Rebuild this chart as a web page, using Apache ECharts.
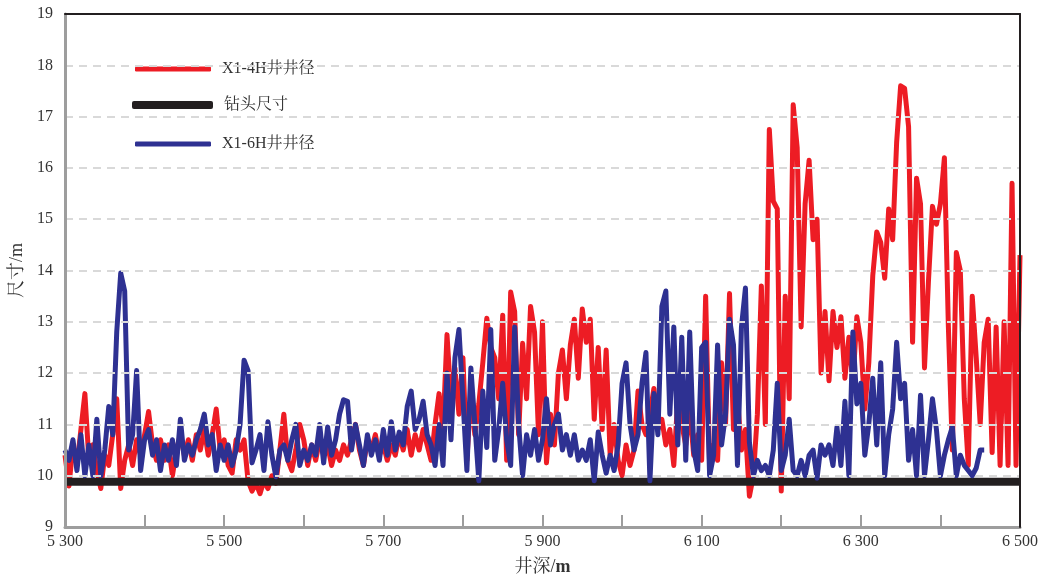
<!DOCTYPE html>
<html>
<head>
<meta charset="utf-8">
<script src="https://cdn.jsdelivr.net/npm/echarts@6/dist/echarts.min.js"></script>
<style>
  html, body { margin: 0; padding: 0; background: #fff; }
  #main { width: 1047px; height: 581px; }
</style>
</head>
<body>
<div id="main"></div>
<script>
// 井深采样: 5300 m 起, 每 5 m 一个点
var depthStart = 5300;
var depthStep = 5;

// X1-4H 井井径 (5300 ~ 6500 m)
var dia4H = [
  10.4, 9.8, 10.6, 10.2, 10.9, 11.6, 10.3, 10.6, 10.1, 9.75,
  10.4, 10.2, 10.8, 11.5, 9.75, 10.3, 10.6, 10.2, 10.7, 10.4,
  10.8, 11.25, 10.6, 10.3, 10.7, 10.3, 10.6, 10.0, 10.5, 10.8,
  10.4, 10.7, 10.3, 10.8, 10.5, 10.9, 10.4, 10.8, 11.3, 10.5,
  10.7,
  10.2, 10.05, 10.7, 10.5, 10.7, 9.9, 9.7, 9.85, 9.65, 9.9,
  9.75, 10.0, 9.85, 10.5, 11.2, 10.3, 10.1, 10.5, 11.0, 10.7,
  10.2, 10.6, 10.3, 10.7, 10.4, 10.6, 10.2, 10.5, 10.3, 10.6,
  10.4, 10.7, 11.0, 10.5, 10.2, 10.7, 10.5, 10.8, 10.4, 10.6,
  10.3, 10.6, 10.4, 10.8, 10.5, 10.9, 10.4, 10.8, 10.5, 10.9,
  10.6, 10.3, 11.0, 11.6, 10.9, 12.75, 11.5, 12.1, 11.2, 12.3,
  10.3, 11.6, 10.8, 11.4, 12.2, 13.07, 12.5, 12.3, 11.5, 13.13,
  10.3, 13.58, 13.2, 10.8, 12.58, 11.5, 13.3, 12.8, 10.8, 13.0,
  10.25, 11.2, 10.6, 12.0, 12.45, 11.5, 12.55, 13.05, 11.9, 13.25,
  12.6, 13.05, 11.1, 12.5, 10.9, 12.45, 10.4, 11.0, 10.3, 10.0,
  10.6, 10.2, 10.5, 11.65, 11.0, 10.8, 11.2, 11.7, 10.9, 11.1,
  10.6, 10.9, 10.2, 11.5, 11.0, 10.6, 11.3, 10.4, 10.8, 10.3,
  13.5, 10.2, 10.6, 10.3, 12.2, 11.0, 13.55, 10.9, 11.5, 10.5,
  10.9, 9.6, 10.0, 11.2, 13.7, 11.0, 16.75, 15.35, 15.2, 9.7,
  13.5, 11.5, 17.23, 16.4, 12.9, 15.3, 16.15, 14.6, 15.0, 12.0,
  13.2, 11.85, 13.2, 12.5, 13.1, 11.9, 12.7, 11.8, 13.1, 12.6,
  11.3, 12.2, 13.9, 14.75, 14.55, 13.85, 15.2, 14.6, 16.5, 17.6,
  17.55, 16.8, 12.6, 15.8, 15.3, 12.1, 13.8, 15.25, 14.9, 15.3,
  16.2, 12.9, 10.5, 14.35, 14.0, 11.5, 10.2, 13.5, 12.3, 11.0,
  12.6, 13.05, 10.45, 12.9, 10.2, 13.0, 10.2, 15.7, 10.2, 14.3
];

// X1-6H 井井径 (5300 ~ 6455 m)
var dia6H = [
  10.5, 10.3, 10.7, 10.1, 10.8, 10.0, 10.6, 10.0, 11.1, 10.0,
  10.5, 11.35, 10.8, 12.8, 13.95, 13.6, 10.5, 10.8, 12.05, 10.1,
  10.7, 10.9, 10.4, 10.7, 10.1, 10.6, 10.3, 10.7, 10.2, 11.1,
  10.3, 10.6, 10.4, 10.7, 10.9, 11.2, 10.6, 10.8, 10.1, 10.6,
  10.3,
  10.6, 10.2, 10.5, 11.0, 12.25, 12.05, 10.25, 10.5, 10.8, 10.1,
  11.05, 10.4, 9.98, 10.5, 10.6, 10.3, 10.7, 11.0, 10.2, 10.5,
  10.3, 10.6, 10.4, 11.0, 10.25, 10.95, 10.4, 10.7, 11.2, 11.48,
  11.45, 10.5, 11.0, 10.6, 10.2, 10.8, 10.4, 10.7, 10.3, 10.9,
  10.4, 11.05, 10.5, 10.85, 10.6, 11.35, 11.65, 10.9, 11.1, 11.45,
  10.8, 10.6, 10.2, 11.0, 10.2, 12.0, 10.7, 12.3, 12.85, 11.5,
  10.1, 12.1, 11.0, 9.9, 11.65, 10.55, 12.85, 10.3, 10.9, 11.8,
  10.7, 10.2, 12.9, 11.0, 10.0, 10.8, 10.4, 10.9, 10.3, 10.7,
  11.5, 10.6, 11.0, 11.2, 10.5, 10.8, 10.4, 10.8, 10.3, 10.5,
  10.3, 10.7, 9.9, 10.85, 10.4, 10.05, 10.4, 10.1, 10.6, 11.8,
  12.2, 11.0, 10.5, 10.8, 11.8, 12.4, 9.9, 11.6, 10.8, 13.3,
  13.6, 11.2, 12.9, 10.6, 12.7, 10.3, 12.8, 10.5, 10.1, 12.5,
  12.6, 10.0, 10.4, 12.55, 10.6, 11.2, 13.05, 12.55, 10.2, 12.9,
  13.66, 10.65, 10.0, 10.3, 10.1, 10.2, 10.0, 10.5, 11.8, 10.1,
  10.4, 11.1, 10.1, 10.0, 10.3, 10.0, 10.4, 10.5, 9.95, 10.6,
  10.4, 10.6, 10.2, 10.95, 10.2, 11.45, 10.0, 12.8, 11.4, 11.8,
  10.4, 11.0, 11.9, 10.6, 12.2, 10.0, 10.8, 11.3, 12.6, 11.5,
  11.8, 10.3, 10.9, 10.0, 11.57, 10.0, 10.7, 11.5, 10.9, 10.0,
  10.4, 10.7, 10.95, 10.0, 10.4, 10.2, 10.1, 10.0, 10.15, 10.5,
  10.5
];

// 钻头尺寸
var bitDepths = [5300, 6500];
var bitSize = 9.88;

var legendNames = ['X1-4H井井径', '钻头尺寸', 'X1-6H井井径'];
var colors = ['#ed1c24', '#231f20', '#2e3192'];

var fontSerif = "'Liberation Serif', 'Noto Serif CJK SC', 'Noto Sans CJK SC', serif";

function toPairs(arr) {
  return arr.map(function (v, i) { return [depthStart + i * depthStep, v]; });
}

var chart = echarts.init(document.getElementById('main'));
window.onresize = function () { chart.resize(); };

function legendItem(name, top, left, w, h) {
  return {
    data: [name],
    orient: 'vertical',
    left: left,
    top: top,
    padding: 0,
    icon: 'roundRect',
    itemWidth: w,
    itemHeight: h,
    textStyle: { fontSize: 16, color: '#333', fontFamily: fontSerif, padding: [0, 0, 0, 6] }
  };
}

// 网格虚线: 9 和 19 处不画 (由坐标轴和边框代替)
var gridLineColors = ['rgba(0,0,0,0)', '#d9d9d9', '#d9d9d9', '#d9d9d9', '#d9d9d9', '#d9d9d9',
  '#d9d9d9', '#d9d9d9', '#d9d9d9', '#d9d9d9', 'rgba(0,0,0,0)'];

var option = {
  animation: false,
  backgroundColor: '#fff',
  legend: [
    legendItem(legendNames[0], 61, 135, 76, 5),
    legendItem(legendNames[1], 97, 132, 81, 8),
    legendItem(legendNames[2], 136, 135, 76, 5)
  ],
  grid: { left: 64, right: 27, top: 14, bottom: 54 },
  xAxis: [
    {
      type: 'value',
      min: 5300,
      max: 6500,
      interval: 100,
      name: '井深/{b|m}',
      nameLocation: 'middle',
      nameGap: 31,
      nameTextStyle: {
        fontSize: 18, color: '#333', fontFamily: fontSerif,
        rich: { b: { fontSize: 18, fontWeight: 'bold', color: '#333', fontFamily: fontSerif } }
      },
      axisLine: { lineStyle: { color: '#9d9d9d', width: 3 } },
      axisTick: { inside: true, length: 12, lineStyle: { color: '#9d9d9d', width: 2 } },
      axisLabel: {
        fontSize: 16, color: '#333', fontFamily: fontSerif, margin: 7,
        formatter: function (v) {
          if ((v - 5300) % 200 !== 0) return '';
          return String(v).replace(/(\d)(\d{3})$/, '$1 $2');
        }
      },
      splitLine: { show: false },
      z: 5
    },
    {
      // 顶部边框
      type: 'value',
      position: 'top',
      min: 5300,
      max: 6500,
      axisLine: { show: true, lineStyle: { color: '#231f20', width: 2 } },
      axisTick: { show: false },
      axisLabel: { show: false },
      splitLine: { show: false },
      z: 6
    }
  ],
  yAxis: [
    {
      type: 'value',
      min: 9,
      max: 19,
      interval: 1,
      name: '尺寸/m',
      nameLocation: 'middle',
      nameGap: 39,
      nameTextStyle: { fontSize: 18, color: '#333', fontFamily: fontSerif },
      axisLine: { show: true, lineStyle: { color: '#9d9d9d', width: 3 } },
      axisTick: { show: false },
      axisLabel: { fontSize: 16, color: '#333', fontFamily: fontSerif, margin: 12 },
      splitLine: { lineStyle: { color: gridLineColors, width: 2, type: [8, 6] } },
      z: 5
    },
    {
      // 右侧边框
      type: 'value',
      position: 'right',
      min: 9,
      max: 19,
      axisLine: { show: true, lineStyle: { color: '#231f20', width: 2 } },
      axisTick: { show: false },
      axisLabel: { show: false },
      splitLine: { show: false },
      z: 6
    }
  ],
  series: [
    {
      name: legendNames[0],
      type: 'line',
      showSymbol: false,
      color: colors[0],
      lineStyle: { width: 5, color: colors[0], join: 'round' },
      data: toPairs(dia4H),
      z: 2
    },
    {
      name: legendNames[1],
      type: 'line',
      showSymbol: false,
      color: colors[1],
      lineStyle: { width: 8, color: colors[1] },
      data: bitDepths.map(function (d) { return [d, bitSize]; }),
      z: 3
    },
    {
      name: legendNames[2],
      type: 'line',
      showSymbol: false,
      color: colors[2],
      lineStyle: { width: 5, color: colors[2], join: 'round' },
      data: toPairs(dia6H),
      z: 4
    }
  ]
};

chart.setOption(option);
</script>
</body>
</html>
